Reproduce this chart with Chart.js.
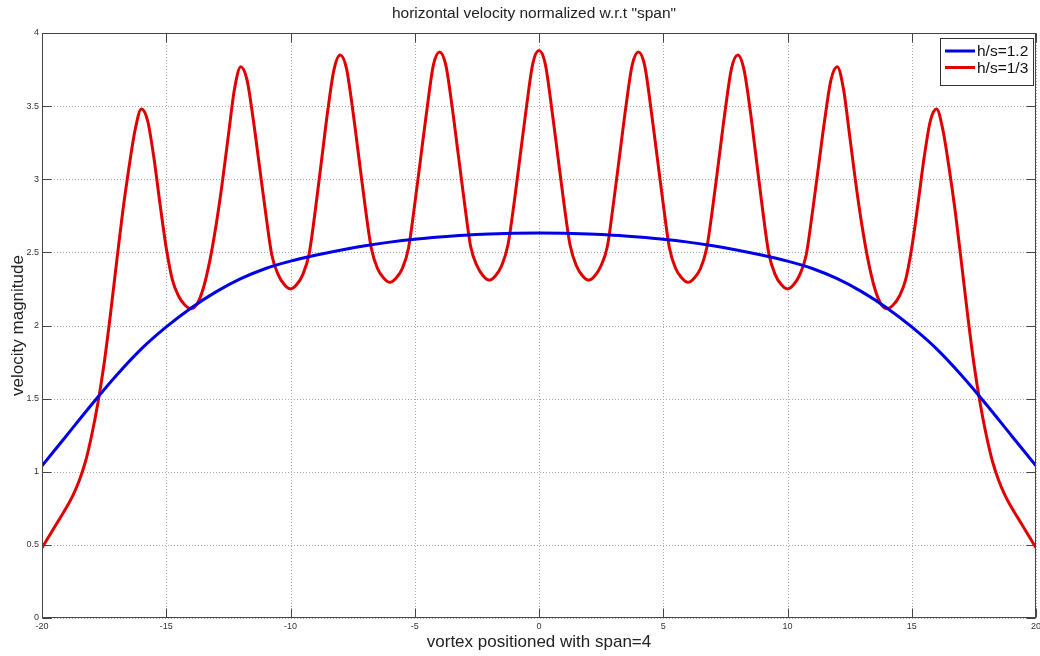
<!DOCTYPE html>
<html>
<head>
<meta charset="utf-8">
<title>horizontal velocity</title>
<script src="https://cdn.jsdelivr.net/npm/chart.js@4.4.1/dist/chart.umd.min.js"></script>
<style>
  html, body { margin: 0; padding: 0; background: #fff; }
  #wrap { width: 1040px; height: 656px; }
</style>
</head>
<body>
<div id="wrap"><canvas id="chart" width="1040" height="656"></canvas></div>
<script>
// values
const titleText = 'horizontal velocity normalized w.r.t "span"';
const xTitle = "vortex positioned with span=4";
const yTitle = "velocity magnitude";
const seriesNames = ["h/s=1.2", "h/s=1/3"];
const seriesColors = ["#0000e6", "#e00000"];

const xTicks = [-20, -15, -10, -5, 0, 5, 10, 15, 20];
const yTicks = [0, 0.5, 1, 1.5, 2, 2.5, 3, 3.5, 4];

// h/s=1.2, sampled every 1 unit from -20 to 20
const blueX = [-20, -19, -18, -17, -16, -15, -14, -13, -12, -11, -10, -9, -8, -7, -6, -5, -4, -3, -2, -1,
  0, 1, 2, 3, 4, 5, 6, 7, 8, 9, 10, 11, 12, 13, 14, 15, 16, 17, 18, 19, 20];
const blueY = [1.04, 1.25, 1.46, 1.66, 1.84, 1.99, 2.12, 2.23, 2.32, 2.39, 2.44, 2.48, 2.515, 2.545, 2.57, 2.59, 2.605, 2.617, 2.625, 2.63,
  2.632, 2.63, 2.625, 2.617, 2.605, 2.59, 2.57, 2.545, 2.515, 2.48, 2.44, 2.39, 2.32, 2.23, 2.12, 1.99, 1.84, 1.66, 1.46, 1.25, 1.04];

// h/s=1/3, sampled every 0.25 unit from -20 to 20
const redStep = 0.25;
const redY = [
  0.48, 0.55, 0.62, 0.69, 0.76, 0.84, 0.94, 1.07, 1.25, 1.47, 1.74, 2.07, 2.43, 2.78, 3.08, 3.34, 3.48,
  3.40, 3.15, 2.83, 2.53, 2.31, 2.20, 2.14, 2.115,
  2.15, 2.26, 2.44, 2.68, 2.97, 3.30, 3.62, 3.77,
  3.68, 3.41, 3.09, 2.77, 2.48, 2.35, 2.28, 2.25,
  2.28, 2.35, 2.49, 2.79, 3.13, 3.47, 3.75, 3.85,
  3.76, 3.48, 3.15, 2.82, 2.53, 2.39, 2.325, 2.295,
  2.325, 2.39, 2.53, 2.83, 3.16, 3.49, 3.78, 3.87,
  3.78, 3.50, 3.17, 2.84, 2.54, 2.41, 2.34, 2.31,
  2.34, 2.41, 2.55, 2.84, 3.17, 3.50, 3.79, 3.88,
  3.79, 3.50, 3.17, 2.84, 2.55, 2.41, 2.34, 2.31,
  2.34, 2.41, 2.54, 2.84, 3.17, 3.50, 3.78, 3.87,
  3.78, 3.49, 3.16, 2.83, 2.53, 2.39, 2.325, 2.295,
  2.325, 2.39, 2.53, 2.82, 3.15, 3.48, 3.76, 3.85,
  3.75, 3.47, 3.13, 2.79, 2.49, 2.35, 2.28, 2.25,
  2.28, 2.35, 2.48, 2.77, 3.09, 3.41, 3.68, 3.77,
  3.62, 3.30, 2.97, 2.68, 2.44, 2.26, 2.15, 2.115,
  2.14, 2.20, 2.31, 2.53, 2.83, 3.15, 3.40, 3.48,
  3.34, 3.08, 2.78, 2.43, 2.07, 1.74, 1.47, 1.25, 1.07, 0.94, 0.84, 0.76, 0.69, 0.62, 0.55, 0.48
];
const redX = redY.map((_, i) => -20 + i * redStep);

const FONT = "Arial, 'Liberation Sans', sans-serif";

function toPoints(xs, ys) {
  return xs.map((x, i) => ({ x: x, y: ys[i] }));
}

// dotted grid behind the lines
const gridPlugin = {
  id: "dottedGrid",
  beforeDatasetsDraw(chart) {
    const ctx = chart.ctx;
    const a = chart.chartArea;
    const xs = chart.scales.x, ys = chart.scales.y;
    ctx.save();
    ctx.strokeStyle = "#a8a8a8";
    ctx.lineWidth = 1;
    ctx.setLineDash([1, 2]);
    xTicks.forEach(function (v) {
      const px = Math.round(xs.getPixelForValue(v)) + 0.5;
      ctx.beginPath();
      ctx.moveTo(px, a.top);
      ctx.lineTo(px, a.bottom);
      ctx.stroke();
    });
    yTicks.forEach(function (v) {
      const py = Math.round(ys.getPixelForValue(v)) + 0.5;
      ctx.beginPath();
      ctx.moveTo(a.left, py);
      ctx.lineTo(a.right, py);
      ctx.stroke();
    });
    ctx.restore();
  },
};

// box, inward ticks, title and legend on top
const framePlugin = {
  id: "frame",
  afterDraw(chart) {
    const ctx = chart.ctx;
    const a = chart.chartArea;
    const xs = chart.scales.x, ys = chart.scales.y;
    const L = Math.round(a.left) + 0.5, R = Math.round(a.right) - 0.5;
    const T = Math.round(a.top) + 0.5, B = Math.round(a.bottom) - 0.5;
    const tick = 9;
    ctx.save();
    ctx.setLineDash([]);
    ctx.strokeStyle = "#444";
    ctx.lineWidth = 1;
    ctx.strokeRect(L, T, R - L, B - T);
    ctx.beginPath();
    xTicks.forEach(function (v) {
      const px = Math.round(xs.getPixelForValue(v)) + 0.5;
      ctx.moveTo(px, B); ctx.lineTo(px, B - tick);
      ctx.moveTo(px, T); ctx.lineTo(px, T + tick);
    });
    yTicks.forEach(function (v) {
      const py = Math.round(ys.getPixelForValue(v)) + 0.5;
      ctx.moveTo(L, py); ctx.lineTo(L + tick, py);
      ctx.moveTo(R, py); ctx.lineTo(R - tick, py);
    });
    ctx.stroke();

    // title, centred a little right of the canvas middle like the original
    ctx.fillStyle = "#222";
    ctx.font = "15.5px " + FONT;
    ctx.textAlign = "center";
    ctx.textBaseline = "middle";
    ctx.fillText(titleText, 534, 14);

    // legend
    const bx = 940.5, by = 38.5, bw = 93, bh = 47;
    ctx.fillStyle = "#fff";
    ctx.fillRect(bx, by, bw, bh);
    ctx.strokeStyle = "#333";
    ctx.strokeRect(bx, by, bw, bh);
    ctx.font = "15.5px " + FONT;
    ctx.textBaseline = "middle";
    ctx.textAlign = "left";
    seriesNames.forEach(function (name, i) {
      const y = 51 + i * 16.5;
      ctx.strokeStyle = seriesColors[i];
      ctx.lineWidth = 3;
      ctx.beginPath();
      ctx.moveTo(945, y);
      ctx.lineTo(975, y);
      ctx.stroke();
      ctx.fillStyle = "#111";
      ctx.fillText(name, 977, y + 1);
    });
    ctx.restore();
  },
};

const ctx = document.getElementById("chart").getContext("2d");
const chart = new Chart(ctx, {
  type: "line",
  data: {
    datasets: [
      {
        label: seriesNames[0],
        data: toPoints(blueX, blueY),
        borderColor: seriesColors[0],
        borderWidth: 3,
        pointRadius: 0,
        cubicInterpolationMode: "monotone",
        fill: false,
      },
      {
        label: seriesNames[1],
        data: toPoints(redX, redY),
        borderColor: seriesColors[1],
        borderWidth: 3,
        pointRadius: 0,
        cubicInterpolationMode: "monotone",
        fill: false,
      },
    ],
  },
  options: {
    responsive: false,
    animation: false,
    devicePixelRatio: 1,
    layout: { padding: { left: 0, right: 4, top: 33, bottom: 0 } },
    plugins: {
      legend: { display: false },
      tooltip: { enabled: false },
      title: { display: false },
    },
    scales: {
      x: {
        type: "linear",
        min: -20,
        max: 20,
        grid: { display: false, drawTicks: false },
        border: { display: false },
        ticks: {
          stepSize: 5,
          padding: 3,
          color: "#333",
          maxRotation: 0,
          font: { family: FONT, size: 9 },
        },
        title: {
          display: true,
          text: xTitle,
          color: "#222",
          font: { family: FONT, size: 17, lineHeight: 1 },
          padding: { top: 0, bottom: 5 },
        },
        afterFit(scale) {
          scale.height = 38;
          scale.paddingLeft = 0;
          scale.paddingRight = 0;
        },
      },
      y: {
        type: "linear",
        min: 0,
        max: 4,
        grid: { display: false, drawTicks: false },
        border: { display: false },
        ticks: {
          stepSize: 0.5,
          padding: 3,
          color: "#333",
          font: { family: FONT, size: 9 },
          callback: function (v) { return String(v); },
        },
        title: {
          display: true,
          text: yTitle,
          color: "#222",
          font: { family: FONT, size: 17, lineHeight: 1 },
          padding: { top: 9.5, bottom: 0 },
        },
        afterFit(scale) {
          scale.width = 42;
          scale.paddingTop = 0;
          scale.paddingBottom = 0;
        },
      },
    },
  },
  plugins: [gridPlugin, framePlugin],
});
</script>
</body>
</html>
